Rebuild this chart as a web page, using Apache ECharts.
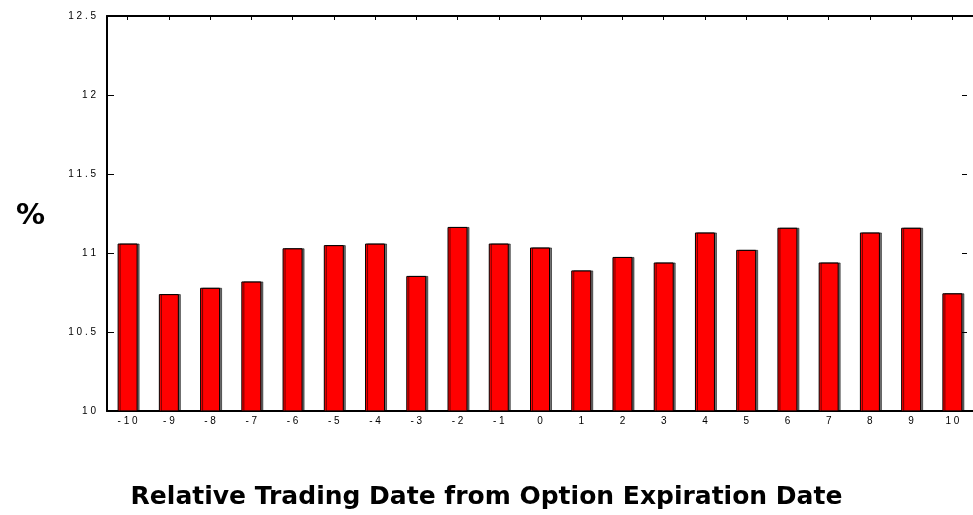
<!DOCTYPE html>
<html>
<head>
<meta charset="utf-8">
<script src="https://cdn.jsdelivr.net/npm/echarts@6/dist/echarts.min.js"></script>
<style>
  html, body { margin: 0; padding: 0; background: #fff; }
  #chart { width: 973px; height: 515px; }
</style>
</head>
<body>
<div id="chart"></div>
<script>
// relative trading day vs option expiration
var days = ["-10", "-9", "-8", "-7", "-6", "-5", "-4", "-3", "-2", "-1",
  "0", "1", "2", "3", "4", "5", "6", "7", "8", "9", "10"];
var pct = [11.06, 10.74, 10.78, 10.82, 11.03, 11.05, 11.06, 10.855, 11.165, 11.06,
  11.035, 10.89, 10.975, 10.94, 11.13, 11.02, 11.16, 10.94, 11.13, 11.16, 10.745];
var yTicks = [10, 10.5, 11, 11.5, 12, 12.5];

// the original spreads each label's characters apart
function spaced(v) {
  return String(v).split("").join(" ");
}

var chart = echarts.init(document.getElementById("chart"));

var labelFont = { fontFamily: "Liberation Sans", fontSize: 10, color: "#000" };

var option = {
  animation: false,
  title: [
    {
      text: "%",
      left: 11,
      top: 197,
      textStyle: { fontFamily: "DejaVu Sans", fontWeight: "bold", fontSize: 29, color: "#000" },
    },
    {
      text: "Relative Trading Date from Option Expiration Date",
      left: "center",
      top: 480,
      textStyle: { fontFamily: "DejaVu Sans", fontWeight: "bold", fontSize: 25, color: "#000" },
    },
  ],
  grid: { left: 107, right: -3, top: 16, bottom: 104 },
  xAxis: [
    {
      type: "category",
      data: days,
      position: "bottom",
      axisLine: { lineStyle: { color: "#000", width: 2 } },
      axisTick: { show: false },
      axisLabel: Object.assign({ margin: 5, formatter: spaced }, labelFont),
      splitLine: { show: false },
    },
    {
      type: "category",
      data: days,
      position: "top",
      axisLine: { lineStyle: { color: "#000", width: 2 } },
      axisTick: { show: true, inside: true, length: 4, alignWithLabel: true, lineStyle: { color: "#000" } },
      axisLabel: { show: false },
      splitLine: { show: false },
    },
  ],
  yAxis: [
    {
      type: "value",
      min: yTicks[0],
      max: yTicks[yTicks.length - 1],
      interval: 0.5,
      position: "left",
      axisLine: { show: true, lineStyle: { color: "#000", width: 2 } },
      axisTick: { show: true, inside: true, length: 7, lineStyle: { color: "#000" } },
      axisLabel: Object.assign({ margin: 11, formatter: spaced }, labelFont),
      splitLine: { show: false },
    },
    {
      type: "value",
      min: yTicks[0],
      max: yTicks[yTicks.length - 1],
      interval: 0.5,
      position: "right",
      offset: -6,
      axisLine: { show: false },
      axisTick: { show: true, inside: true, length: 5, lineStyle: { color: "#000" } },
      axisLabel: { show: false },
      splitLine: { show: false },
    },
  ],
  series: [
    {
      type: "bar",
      data: pct,
      xAxisIndex: 0,
      yAxisIndex: 0,
      barWidth: 20,
      itemStyle: {
        color: "#ff0000",
        borderColor: "#000",
        borderWidth: 1,
        shadowColor: "rgba(0,0,0,0.55)",
        shadowOffsetX: 2,
        shadowOffsetY: 0,
        shadowBlur: 0,
      },
    },
  ],
};

chart.setOption(option);
</script>
</body>
</html>
